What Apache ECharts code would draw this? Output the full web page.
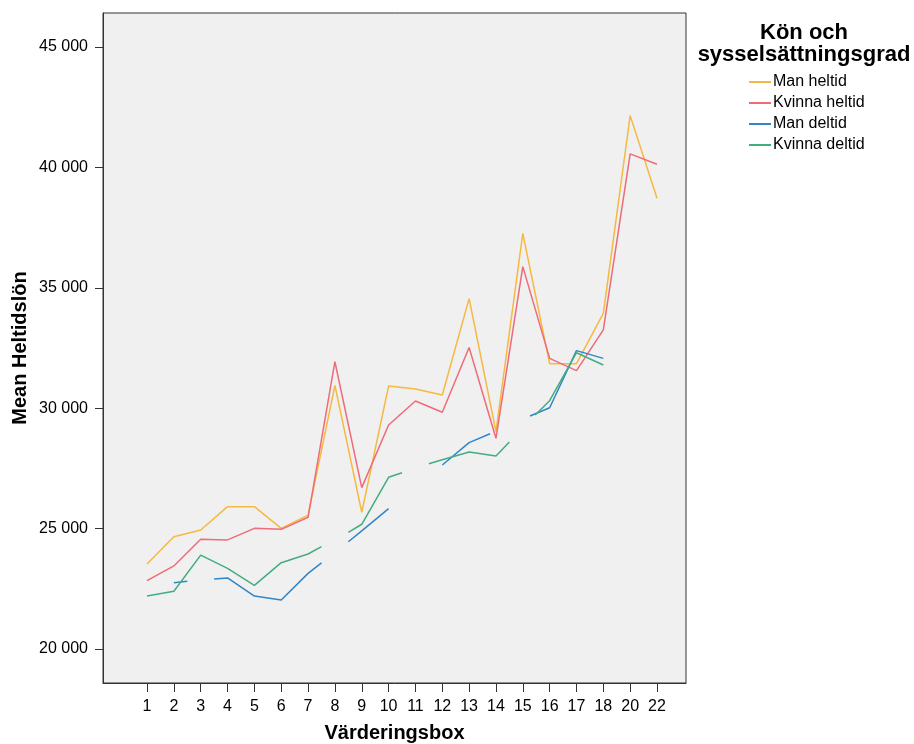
<!DOCTYPE html>
<html>
<head>
<meta charset="utf-8">
<script src="https://cdn.jsdelivr.net/npm/echarts@6/dist/echarts.min.js"></script>
<style>
html,body{margin:0;padding:0;background:#fff;}
#c{width:914px;height:744px;}
</style>
</head>
<body>
<div id="c"></div>
<script>
// Categories (x axis labels), index 0..19
const categories = ['1','2','3','4','5','6','7','8','9','10','11','12','13','14','15','16','17','18','20','22'];
const yTicks = [20000, 25000, 30000, 35000, 40000, 45000];
const seriesNames = ['Man heltid', 'Kvinna heltid', 'Man deltid', 'Kvinna deltid'];

// Full-time series: one value per category
const manHeltid = [23530, 24660, 24940, 25910, 25910, 25010, 25560, 30950, 25680, 30920, 30800, 30550, 34550, 29030, 37260, 31850, 31850, 33940, 42150, 38720];
const kvinnaHeltid = [22840, 23450, 24560, 24530, 25010, 24970, 25470, 31930, 26700, 29300, 30300, 29830, 32520, 28750, 35880, 32070, 31560, 33250, 40560, 40130];

// Part-time series: broken lines (position in category-index units, null = break)
const manDeltidX = [1, 1.5, null, 2.5, 3, 4, 5, 6, 6.5, null, 7.5, 8, 9, null, 11, 12, 12.78, null, 14.27, 15, 16, 17];
const manDeltidY = [22750, 22810, null, 22905, 22950, 22200, 22035, 23140, 23580, null, 24455, 24905, 25830, null, 27640, 28570, 28940, null, 29675, 30020, 32390, 32070];
const kvinnaDeltidX = [0, 1, 2, 3, 4, 5, 6, 6.5, null, 7.5, 8, 9, 9.5, null, 10.5, 11, 12, 13, 13.5, null, 14.46, 15, 16, 17];
const kvinnaDeltidY = [22200, 22400, 23900, 23350, 22645, 23585, 23945, 24250, null, 24845, 25180, 27130, 27320, null, 27695, 27860, 28180, 28015, 28595, null, 29720, 30310, 32305, 31795];

const colors = ['#f5b940', '#ee6b78', '#2f86c8', '#43ad7f'];

function pairs(xs, ys) {
  return xs.map((x, k) => (x === null ? [null, null] : [x, ys[k]]));
}
function fmt(v) {
  return String(v).replace(/\B(?=(\d{3})+(?!\d))/g, ' ');
}

const font = 'Arial, "Liberation Sans", sans-serif';
const chart = echarts.init(document.getElementById('c'), null, {renderer: 'canvas'});

const lineSeries = (name, data, color) => ({
  name: name,
  type: 'line',
  data: data,
  showSymbol: false,
  symbol: 'none',
  connectNulls: false,
  lineStyle: {width: 1.5, color: color},
  itemStyle: {color: color},
  emphasis: {disabled: true},
  animation: false
});

chart.setOption({
  animation: false,
  textStyle: {fontFamily: font},
  title: {
    text: 'Kön och\nsysselsättningsgrad',
    left: 804,
    top: 22,
    padding: 0,
    textAlign: 'center',
    textStyle: {fontFamily: font, fontSize: 22, fontWeight: 'bold', color: '#000', lineHeight: 22}
  },
  legend: {
    data: seriesNames,
    orient: 'vertical',
    left: 749,
    top: 74,
    padding: 0,
    itemGap: 5,
    itemWidth: 22,
    itemHeight: 2,
    icon: 'rect',
    textStyle: {fontFamily: font, fontSize: 16, lineHeight: 16, color: '#000', padding: [0, 0, 0, -3]}
  },
  grid: {
    left: 103, top: 13, width: 583, height: 670,
    outerBoundsMode: 'none',
    show: true, backgroundColor: '#f0f0f0', borderColor: '#333', borderWidth: 1,
    containLabel: false
  },
  xAxis: {
    type: 'value',
    min: -1.64,
    max: 20.08,
    name: 'Värderingsbox',
    nameLocation: 'middle',
    nameGap: 40,
    nameMoveOverlap: false,
    nameTextStyle: {fontFamily: font, fontSize: 20, fontWeight: 'bold', color: '#000'},
    axisLine: {show: true, onZero: false, lineStyle: {color: '#333', width: 1}},
    axisTick: {show: true, length: 9, lineStyle: {color: '#333'}, customValues: categories.map((c, i) => i)},
    axisLabel: {
      customValues: categories.map((c, i) => i),
      formatter: v => categories[Math.round(v)],
      fontFamily: font, fontSize: 16, color: '#000', margin: 16
    },
    splitLine: {show: false}
  },
  yAxis: {
    type: 'value',
    min: 18588,
    max: 46412,
    name: 'Mean Heltidslön',
    nameLocation: 'middle',
    nameGap: 73,
    nameMoveOverlap: false,
    nameTextStyle: {fontFamily: font, fontSize: 20, fontWeight: 'bold', color: '#000'},
    axisLine: {show: true, onZero: false, lineStyle: {color: '#333', width: 1}},
    axisTick: {show: true, length: 8, lineStyle: {color: '#333'}, customValues: yTicks},
    axisLabel: {
      customValues: yTicks,
      formatter: v => fmt(v),
      fontFamily: font, fontSize: 16, color: '#000', margin: 15
    },
    splitLine: {show: false}
  },
  series: [
    lineSeries(seriesNames[0], manHeltid.map((v, i) => [i, v]), colors[0]),
    lineSeries(seriesNames[1], kvinnaHeltid.map((v, i) => [i, v]), colors[1]),
    lineSeries(seriesNames[2], pairs(manDeltidX, manDeltidY), colors[2]),
    lineSeries(seriesNames[3], pairs(kvinnaDeltidX, kvinnaDeltidY), colors[3])
  ]
});
</script>
</body>
</html>
